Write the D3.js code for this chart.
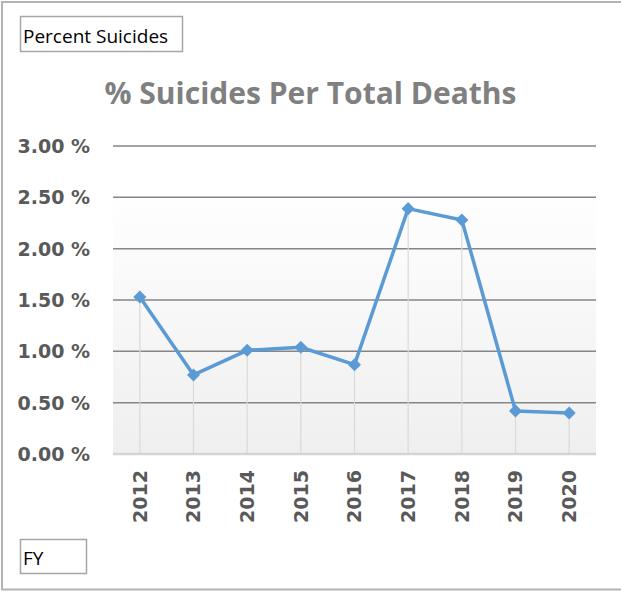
<!DOCTYPE html>
<html lang="en">
<head>
    <meta charset="utf-8">
    <title>% Suicides Per Total Deaths</title>
    <script src="https://d3js.org/d3.v7.min.js"></script>
    <style type="text/css">
        body { margin: 0; background: #fff; }
        .ylab text { font-family: "DejaVu Sans", sans-serif; font-weight: bold; font-size: 19px; fill: #595959; }
        .xlab text { font-family: "DejaVu Sans", sans-serif; font-weight: bold; font-size: 19px; fill: #595959; }
        .boxlabel { font-family: "Open Sans", sans-serif; font-size: 19px; fill: #000; }
        .title { font-family: "Open Sans", sans-serif; font-weight: bold; font-size: 30px; fill: #808080; }
    </style>
</head>
<body>
    <div id="chart"></div>
    <script>
        // data
        var years = ["2012", "2013", "2014", "2015", "2016", "2017", "2018", "2019", "2020"];
        var pctSuicides = [1.53, 0.77, 1.01, 1.04, 0.87, 2.39, 2.28, 0.42, 0.40];
        var yTicks = [0, 0.5, 1, 1.5, 2, 2.5, 3];

        var width = 621, height = 594;
        var plot = { left: 113, right: 596, top: 146, bottom: 454 };

        var svg = d3.select("#chart")
            .append("svg")
            .attr("width", width)
            .attr("height", height);

        // outer frame (no right edge visible in the picture)
        svg.append("path")
            .attr("d", "M" + width + ",2 H2 V589.5 H" + width)
            .attr("fill", "none")
            .attr("stroke", "#b4b4b4")
            .attr("stroke-width", 2);

        var x = d3.scaleBand().domain(years).range([plot.left, plot.right]);
        var y = d3.scaleLinear().domain([0, 3]).range([plot.bottom, plot.top]);

        // plot background gradient
        var grad = svg.append("defs").append("linearGradient")
            .attr("id", "bg").attr("x1", 0).attr("y1", 0).attr("x2", 0).attr("y2", 1);
        grad.append("stop").attr("offset", "0%").attr("stop-color", "#ffffff");
        grad.append("stop").attr("offset", "100%").attr("stop-color", "#efefef");

        svg.append("rect")
            .attr("x", plot.left)
            .attr("y", y(2.6))
            .attr("width", plot.right - plot.left)
            .attr("height", plot.bottom - y(2.6))
            .attr("fill", "url(#bg)");

        // horizontal gridlines
        svg.selectAll(".grid")
            .data(yTicks.filter(function (d) { return d > 0; }))
            .enter()
            .append("line")
            .attr("class", "grid")
            .attr("x1", plot.left)
            .attr("x2", plot.right)
            .attr("y1", function (d) { return y(d); })
            .attr("y2", function (d) { return y(d); })
            .attr("stroke", "#868686")
            .attr("stroke-width", 1.5);

        // drop lines from each point
        svg.selectAll(".drop")
            .data(years)
            .enter()
            .append("line")
            .attr("class", "drop")
            .attr("x1", function (d) { return x(d) + x.bandwidth() / 2; })
            .attr("x2", function (d) { return x(d) + x.bandwidth() / 2; })
            .attr("y1", function (d, i) { return y(pctSuicides[i]); })
            .attr("y2", plot.bottom)
            .attr("stroke", "#d9d9d9")
            .attr("stroke-width", 1.2);

        // base axis line
        svg.append("line")
            .attr("x1", plot.left)
            .attr("x2", plot.right)
            .attr("y1", y(0))
            .attr("y2", y(0))
            .attr("stroke", "#d4d4d4")
            .attr("stroke-width", 2.5);

        // y axis labels
        var yAxis = svg.append("g")
            .attr("class", "ylab")
            .attr("transform", "translate(" + plot.left + ",0)")
            .call(d3.axisLeft(y).tickValues(yTicks).tickSize(0).tickPadding(23)
                .tickFormat(function (d) { return d3.format(".2f")(d) + " %"; }));
        yAxis.select(".domain").remove();
        yAxis.selectAll("text").attr("dy", "0.35em");

        // x axis labels, rotated
        var xAxis = svg.append("g")
            .attr("class", "xlab")
            .attr("transform", "translate(0," + plot.bottom + ")")
            .call(d3.axisBottom(x).tickSize(0));
        xAxis.select(".domain").remove();
        xAxis.selectAll("text")
            .attr("transform", "translate(0,16) rotate(-90)")
            .attr("text-anchor", "end")
            .attr("x", 0)
            .attr("y", 0)
            .attr("dy", "0.36em");

        // series line
        var line = d3.line()
            .x(function (d, i) { return x(years[i]) + x.bandwidth() / 2; })
            .y(function (d) { return y(d); });

        svg.append("path")
            .datum(pctSuicides)
            .attr("d", line)
            .attr("fill", "none")
            .attr("stroke", "#5b9bd5")
            .attr("stroke-width", 3.5)
            .attr("stroke-linejoin", "round");

        svg.selectAll(".marker")
            .data(pctSuicides)
            .enter()
            .append("path")
            .attr("class", "marker")
            .attr("d", d3.symbol(d3.symbolSquare, 85))
            .attr("transform", function (d, i) {
                return "translate(" + (x(years[i]) + x.bandwidth() / 2) + "," + y(d) + ") rotate(45)";
            })
            .attr("fill", "#5b9bd5");

        // title
        svg.append("text")
            .attr("class", "title")
            .attr("x", width / 2)
            .attr("y", 104)
            .attr("text-anchor", "middle")
            .text("% Suicides Per Total Deaths");

        // field buttons
        function fieldBox(x0, y0, w, h, label) {
            svg.append("rect")
                .attr("x", x0).attr("y", y0)
                .attr("width", w).attr("height", h)
                .attr("fill", "#fff")
                .attr("stroke", "#a6a6a6")
                .attr("stroke-width", 1.5);
            svg.append("text")
                .attr("class", "boxlabel")
                .attr("x", x0 + 2.5)
                .attr("y", y0 + h - 9)
                .text(label);
        }
        fieldBox(20.5, 16.5, 162, 35, "Percent Suicides");
        fieldBox(20.5, 539.5, 66, 34, "FY");
    </script>
</body>
</html>
